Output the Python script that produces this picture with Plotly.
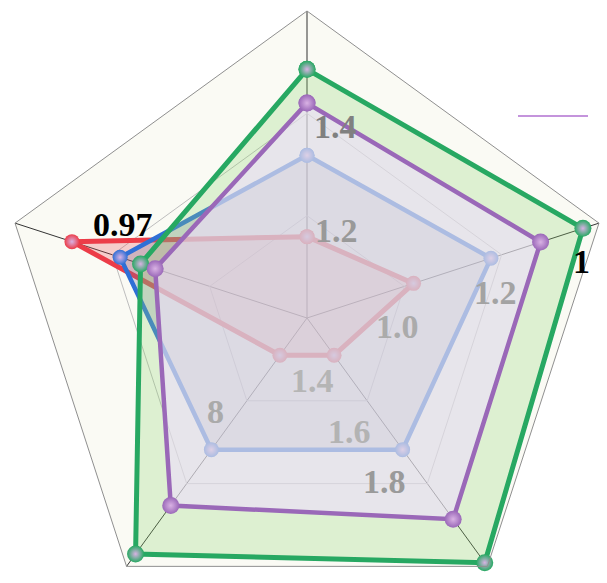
import plotly.graph_objects as go

# five radar axes, clockwise from the top (names are not shown in the chart)
axes = ["A", "B", "C", "D", "E"]

# values, as a fraction of the outer pentagon
red = [0.265, 0.365, 0.15, 0.15, 0.805]
blue = [0.53, 0.63, 0.53, 0.53, 0.64]
green = [0.81, 0.945, 0.985, 0.95, 0.57]
purple = [0.70, 0.80, 0.81, 0.755, 0.52]

# axis labels as they appear in the chart
tick_labels = ["1.2", "1.4", "1.0", "1.2", "1.4", "1.6", "1.8", "8"]
name_labels = ["0.97", "1"]

# page size (a bit larger than the window so the pentagon can reach the edges)
W, H = 614, 640

tick_pos = [(336, 230), (335, 126), (397, 326), (495, 292),
            (312, 380), (349, 431), (385, 481), (215, 411)]
tick_col = ["#999999", "#808080", "#ababab", "#a3a3a3",
            "#b5b5b5", "#b3b3b3", "#9a9a9a", "#aaaaaa"]
name_pos = [(123, 224), (581, 261)]


def paper(x, y):
    return x / W, 1 - y / H


# drawn in this order: later fills wash out the earlier lines
series = [
    ("red", red, "#ec3c48", "rgba(232,70,80,0.25)", 15, 5),
    ("blue", blue, "#2f6fd6", "rgba(111,112,155,0.28)", 15, 4.5),
    ("green", green, "#27a862", "rgba(144,213,113,0.27)", 17, 5),
    ("purple", purple, "#9a68b8", "rgba(239,222,252,0.6)", 17, 4.5),
]

fig = go.Figure()
for name, vals, col, fill, size, lw in series:
    fig.add_trace(go.Scatterpolar(
        r=vals + vals[:1], theta=axes + axes[:1],
        mode="lines+markers", fill="toself", fillcolor=fill,
        line=dict(color=col, width=lw),
        marker=dict(size=size, color=col,
                    gradient=dict(type="radial", color="#d9b2e4")),
        name=name, hoverinfo="skip"))

annotations = []
for txt, (x, y), c in zip(tick_labels, tick_pos, tick_col):
    ax, ay = paper(x, y)
    annotations.append(dict(text=txt, x=ax, y=ay, xref="paper", yref="paper",
                            showarrow=False, xanchor="center", yanchor="middle",
                            font=dict(family="Liberation Serif", size=34, color=c, weight="bold")))
for txt, (x, y) in zip(name_labels, name_pos):
    ax, ay = paper(x, y)
    annotations.append(dict(text=txt, x=ax, y=ay, xref="paper", yref="paper",
                            showarrow=False, xanchor="center", yanchor="middle",
                            font=dict(family="Liberation Serif", size=34, color="black", weight="bold")))

x0, y0 = paper(518, 116)
x1, _ = paper(588, 116)

fig.update_layout(
    width=W, height=H,
    margin=dict(l=0, r=0, t=0, b=0),
    paper_bgcolor="white",
    showlegend=False,
    annotations=annotations,
    shapes=[dict(type="line", xref="paper", yref="paper", x0=x0, x1=x1, y0=y0, y1=y0,
                 line=dict(color="#b070d0", width=1.5))],
    polar=dict(
        domain=dict(x=[0, 1], y=[(H - 625) / H, (H - 11) / H]),
        bgcolor="#fafaf4",
        gridshape="linear",
        radialaxis=dict(range=[0, 1], tickvals=[1 / 3, 2 / 3], showticklabels=False,
                        ticks="", showline=False, gridcolor="#bdbdbd", gridwidth=1),
        angularaxis=dict(rotation=90, direction="clockwise", showticklabels=False,
                         ticks="", showline=True, linecolor="#8f8f8f", linewidth=1,
                         gridcolor="#333333", gridwidth=1),
    ),
)

fig.write_html("out.html", config={"displayModeBar": False},
               post_script="document.body.style.margin='0';document.body.style.overflow='hidden';")
